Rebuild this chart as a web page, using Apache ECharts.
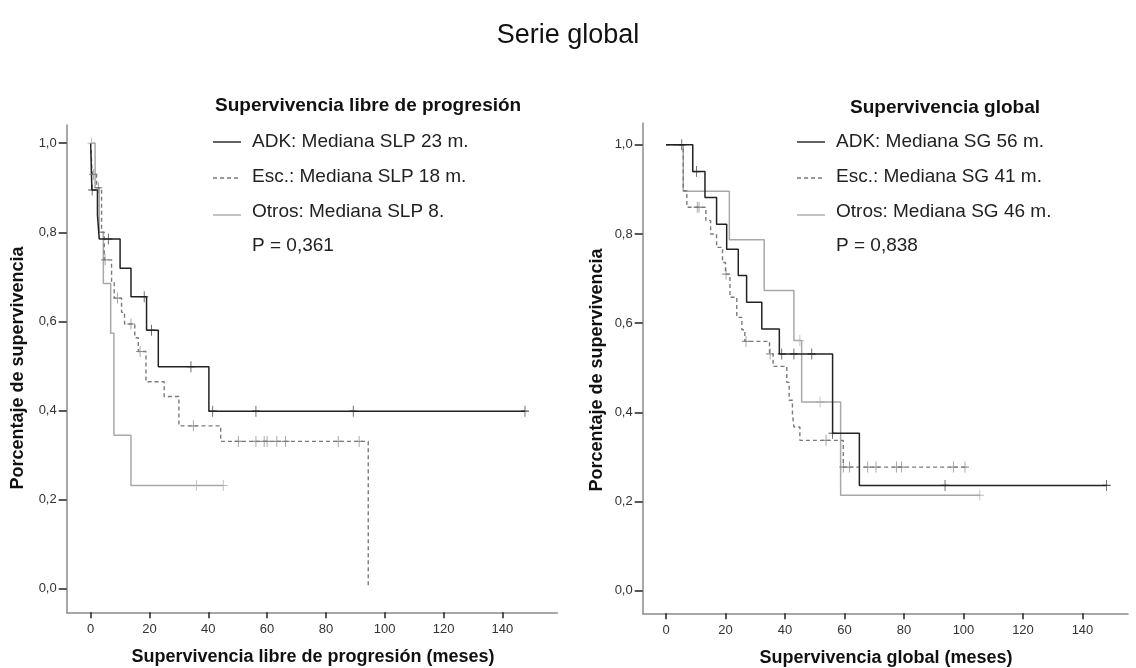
<!DOCTYPE html>
<html><head><meta charset="utf-8">
<script src="https://cdn.jsdelivr.net/npm/echarts@6/dist/echarts.min.js"></script>
<style>html,body{margin:0;padding:0;background:#fff}#c{width:1136px;height:668px}</style>
</head><body><div id="c"></div>
<script>
// ---- tick labels ----
const xTicks = [0, 20, 40, 60, 80, 100, 120, 140];
const yTicks = [0, 0.2, 0.4, 0.6, 0.8, 1.0];

// ---- Supervivencia libre de progresión (SLP) ----
const slpAdkT = [0, 0.2, 0.4, 2.3, 2.9, 10.0, 13.7, 19.0, 23.0, 40.2, 147.7];
const slpAdkS = [1, 0.947, 0.895, 0.839, 0.785, 0.719, 0.655, 0.580, 0.498, 0.398, 0.398];
const slpAdkC = [0.5, 6.0, 18.2, 20.7, 34.1, 41.5, 56.2, 89.3, 147.7];

const slpEscT = [0, 0.5, 2.0, 3.7, 4.6, 7.1, 8.0, 10.5, 11.5, 15.0, 16.2, 18.8, 25.0, 30.0, 44.2, 94.4];
const slpEscS = [1, 0.93, 0.90, 0.80, 0.738, 0.69, 0.652, 0.62, 0.594, 0.563, 0.532, 0.464, 0.431, 0.365, 0.330, 0];
const slpEscC = [0.9, 2.6, 4.9, 9.1, 13.7, 16.8, 34.9, 50.2, 56.2, 59.0, 60.0, 63.3, 66.3, 84.2, 91.3];

const slpOtrT = [0, 1.5, 2.9, 4.3, 6.8, 7.9, 13.7, 45.1];
const slpOtrS = [1, 0.9, 0.8, 0.685, 0.573, 0.344, 0.231, 0.231];
const slpOtrC = [0.3, 36.0, 45.1];

// ---- Supervivencia global (SG) ----
const sgAdkT = [0, 9.0, 13.1, 17.0, 20.4, 24.3, 27.1, 32.2, 38.1, 56.0, 65.0, 148.1];
const sgAdkS = [1, 0.940, 0.882, 0.822, 0.766, 0.707, 0.647, 0.587, 0.531, 0.353, 0.236, 0.236];
const sgAdkC = [5.3, 10.3, 38.9, 43.0, 49.0, 56.0, 93.8, 148.1];

const sgEscT = [0, 5.8, 7.0, 13.4, 15.0, 17.0, 19.0, 20.0, 21.5, 23.8, 25.5, 26.5, 34.8, 36.0, 40.6, 41.4, 42.5, 43.0, 45.0, 59.6, 100.5];
const sgEscS = [1, 0.897, 0.860, 0.830, 0.800, 0.770, 0.736, 0.710, 0.658, 0.613, 0.585, 0.559, 0.531, 0.503, 0.467, 0.427, 0.397, 0.367, 0.337, 0.277, 0.277];
const sgEscC = [10.5, 11.1, 20.2, 26.9, 35.0, 53.8, 59.6, 61.7, 67.8, 70.6, 77.5, 79.2, 96.6, 100.5];

const sgOtrT = [0, 5.8, 21.3, 33.0, 43.0, 45.6, 58.7, 105.5];
const sgOtrS = [1, 0.896, 0.787, 0.673, 0.561, 0.423, 0.214, 0.214];
const sgOtrC = [45.0, 51.8, 105.5];

// ---- labels ----
const mainTitle = 'Serie global';
const slpTitle = 'Supervivencia libre de progresión';
const slpNames = ['ADK: Mediana SLP 23 m.', 'Esc.: Mediana SLP 18 m.', 'Otros: Mediana SLP 8.'];
const slpP = 'P = 0,361';
const sgTitle = 'Supervivencia global';
const sgNames = ['ADK: Mediana SG 56 m.', 'Esc.: Mediana SG 41 m.', 'Otros: Mediana SG 46 m.'];
const sgP = 'P = 0,838';
const yName = 'Porcentaje de supervivencia';
const slpXName = 'Supervivencia libre de progresión (meses)';
const sgXName = 'Supervivencia global (meses)';

// ---- styles ----
const FONT = '"Liberation Sans", Arial, sans-serif';
const colADK = '#222222', colEsc = '#7a7a7a', colOtr = '#a8a8a8';
const styles = [
  {color: colADK, type: 'solid', width: 1.5},
  {color: colEsc, type: [4, 3], width: 1.4},
  {color: colOtr, type: 'solid', width: 1.5}
];
const plus = 'path://M4.5,0 L5.5,0 L5.5,4.5 L10,4.5 L10,5.5 L5.5,5.5 L5.5,10 L4.5,10 L4.5,5.5 L0,5.5 L0,4.5 L4.5,4.5 Z';

function pairs(T, S) { return T.map((t, i) => [t, S[i]]); }
function survAt(T, S, t) { let v = S[0]; for (let i = 0; i < T.length; i++) { if (T[i] <= t) v = S[i]; } return v; }

function curves(idx, groups) {
  const out = [];
  [2, 1, 0].forEach(k => {
    const g = groups[k], st = styles[k];
    out.push({
      type: 'line', xAxisIndex: idx, yAxisIndex: idx, step: 'end', showSymbol: false, symbol: 'none',
      data: pairs(g.T, g.S), lineStyle: {color: st.color, type: st.type, width: st.width},
      itemStyle: {color: st.color}, silent: true, animation: false, z: 3 + (2 - k)
    });
    out.push({
      type: 'scatter', xAxisIndex: idx, yAxisIndex: idx, symbol: plus, symbolSize: [8, 11],
      data: g.C.map(t => [t, survAt(g.T, g.S, t)]), itemStyle: {color: st.color},
      silent: true, animation: false, z: 6 + (2 - k)
    });
  });
  return out;
}

function xAxis(idx, min, max) {
  return {
    gridIndex: idx, type: 'value', min: min, max: max,
    axisLine: {show: true, onZero: false, lineStyle: {color: '#8a8a8a', width: 1.5}},
    axisTick: {show: true, customValues: xTicks, length: 6, lineStyle: {color: '#222', width: 1.5}},
    axisLabel: {customValues: xTicks, color: '#333', fontSize: 13, fontFamily: FONT, margin: 11},
    splitLine: {show: false}
  };
}
function yAxis(idx, min, max) {
  return {
    gridIndex: idx, type: 'value', min: min, max: max,
    axisLine: {show: true, onZero: false, lineStyle: {color: '#8a8a8a', width: 1.5}},
    axisTick: {show: true, customValues: yTicks, length: 8, lineStyle: {color: '#222', width: 1.5}},
    axisLabel: {customValues: yTicks, color: '#333', fontSize: 13, fontFamily: FONT, margin: 10,
      formatter: v => v.toFixed(1).replace('.', ',')},
    splitLine: {show: false}
  };
}

function legendGraphics(x0, xText, yTitle, xTitle, title, names, p) {
  const g = [];
  g.push({type: 'text', x: xTitle, y: yTitle, style: {text: title, font: 'bold 19px ' + FONT, fill: '#111', textAlign: 'left', textVerticalAlign: 'middle'}});
  const ys = [142, 177, 212];
  const lineYs = [142, 178, 215];
  names.forEach((n, k) => {
    const st = styles[k];
    g.push({type: 'line', shape: {x1: x0, y1: lineYs[k], x2: x0 + 28, y2: lineYs[k]},
      style: {stroke: st.color, lineWidth: 1.4, lineDash: Array.isArray(st.type) ? st.type : null}});
    g.push({type: 'text', x: xText, y: ys[k], style: {text: n, font: '19px ' + FONT, fill: '#222', textAlign: 'left', textVerticalAlign: 'middle'}});
  });
  g.push({type: 'text', x: xText, y: 246, style: {text: p, font: '19px ' + FONT, fill: '#222', textAlign: 'left', textVerticalAlign: 'middle'}});
  return g;
}

const graphics = [].concat(
  [{type: 'text', x: 568, y: 36, style: {text: mainTitle, font: '27px ' + FONT, fill: '#111', textAlign: 'center', textVerticalAlign: 'middle'}}],
  legendGraphics(213, 252, 106, 215, slpTitle, slpNames, slpP),
  legendGraphics(797, 836, 108, 850, sgTitle, sgNames, sgP),
  [
    {type: 'text', x: 18, y: 368, rotation: Math.PI / 2, style: {text: yName, font: 'bold 18px ' + FONT, fill: '#111', textAlign: 'center', textVerticalAlign: 'middle'}},
    {type: 'text', x: 597, y: 370, rotation: Math.PI / 2, style: {text: yName, font: 'bold 18px ' + FONT, fill: '#111', textAlign: 'center', textVerticalAlign: 'middle'}},
    {type: 'text', x: 313, y: 657, style: {text: slpXName, font: 'bold 18px ' + FONT, fill: '#111', textAlign: 'center', textVerticalAlign: 'middle'}},
    {type: 'text', x: 886, y: 658, style: {text: sgXName, font: 'bold 18px ' + FONT, fill: '#111', textAlign: 'center', textVerticalAlign: 'middle'}}
  ]
);

const slpGroups = [
  {T: slpAdkT, S: slpAdkS, C: slpAdkC},
  {T: slpEscT, S: slpEscS, C: slpEscC},
  {T: slpOtrT, S: slpOtrS, C: slpOtrC}
];
const sgGroups = [
  {T: sgAdkT, S: sgAdkS, C: sgAdkC},
  {T: sgEscT, S: sgEscS, C: sgEscC},
  {T: sgOtrT, S: sgOtrS, C: sgOtrC}
];

const chart = echarts.init(document.getElementById('c'), null, {renderer: 'canvas'});
chart.setOption({
  backgroundColor: '#ffffff',
  animation: false,
  grid: [
    {left: 66.7, right: 1136 - 557.3, top: 125, bottom: 668 - 612.3, containLabel: false},
    {left: 642.7, right: 8, top: 123, bottom: 668 - 613.3, containLabel: false}
  ],
  xAxis: [xAxis(0, -8.16, 158.7), xAxis(1, -7.83, 155.3)],
  yAxis: [yAxis(0, -0.054, 1.041), yAxis(1, -0.051, 1.049)],
  series: [].concat(curves(0, slpGroups), curves(1, sgGroups)),
  graphic: graphics
});
</script>
</body></html>
